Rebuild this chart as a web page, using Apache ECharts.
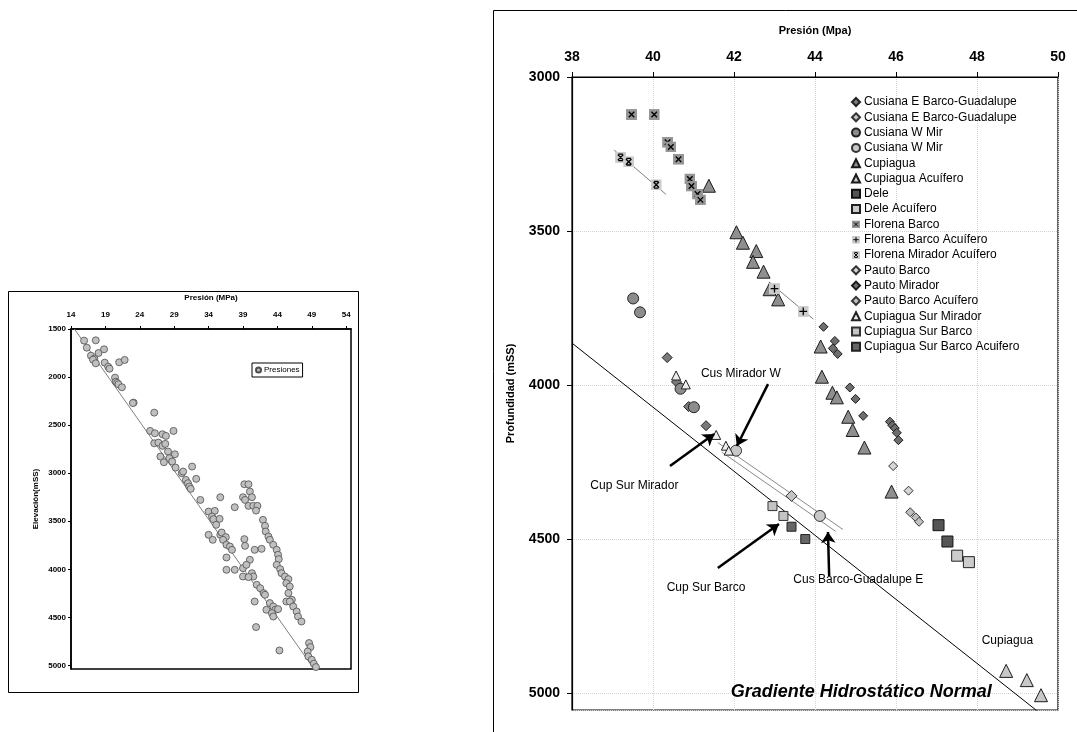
<!DOCTYPE html>
<html><head><meta charset="utf-8">
<script src="https://cdn.jsdelivr.net/npm/echarts@6/dist/echarts.min.js"></script>
<style>html,body{margin:0;padding:0;background:#fff}#c{width:1077px;height:732px}</style>
</head><body><div id="c"></div><script>
// ---------- LEFT CHART DATA (Presión MPa, Elevación mSS) ----------
const presiones = [
 [15.9,1621],[17.6,1618],[16.3,1694],[16.9,1777],[17.4,1808],[18.0,1750],[18.8,1711],[17.2,1819],[17.6,1857],[18.9,1850],
 [19.4,1892],[19.6,1913],[21.0,1846],[21.8,1822],[20.4,2006],[20.5,2048],[20.7,2060],[20.9,2075],[21.4,2106],[23.1,2266],
 [23.0,2270],[26.1,2370],
 [25.5,2560],[26.2,2585],[27.3,2595],[27.8,2612],[28.9,2560],[26.1,2689],[26.7,2682],[27.3,2716],[27.7,2695],[28.1,2775],
 [29.1,2803],[27.0,2827],[27.5,2886],[28.3,2844],[28.7,2879],[29.2,2942],[30.1,3000],[30.3,2983],[31.6,2931],[32.2,3059],
 [30.7,3070],[31.0,3104],[31.2,3139],[31.4,3163],[32.8,3278],[35.7,3250],[37.8,3354],[34.0,3399],[34.9,3392],[34.5,3451],
 [34.7,3478],[35.6,3475],[35.1,3537],
 [39.2,3115],[39.8,3115],[40.0,3191],[40.3,3250],[39.0,3250],[39.3,3278],[39.8,3340],[40.5,3340],[41.1,3340],[40.9,3389],
 [41.9,3485],[42.2,3548],[42.3,3607],[42.7,3659],
 [34.0,3641],[35.7,3641],[35.9,3617],[36.5,3665],[39.2,3686],
 [42.9,3693],[43.4,3745],[43.9,3797],[44.1,3849],[44.2,3894],[43.9,3953],[44.4,3998],[44.6,4040],[45.1,4075],[45.6,4102],
 [36.1,3693],[36.6,3745],[37.1,3763],[37.4,3797],[34.6,3693],[36.6,3877],[39.3,3756],[40.7,3797],[41.7,3787],[39.0,3988],
 [40.0,3901],[39.5,3953],[37.8,4005],[36.6,4005],[40.3,4040],[39.0,4075],[40.5,4075],
 [39.8,4081],[41.0,4161],[41.5,4196],[42.0,4248],[42.2,4265],[45.3,4144],[45.8,4179],[45.6,4248],[46.1,4317],[45.3,4335],
 [45.8,4335],[46.3,4387],[46.8,4439],[47.0,4491],[47.5,4543],[40.7,4335],[42.4,4421],[42.9,4351],[43.4,4387],[43.7,4421],
 [44.1,4414],[43.2,4456],[43.4,4491],[40.9,4601],[44.3,4844],[48.6,4767],[48.8,4809],[48.4,4855],[48.5,4906],[49.0,4941],
 [49.3,4982],[49.6,5017]
];
const presionesTrend = [[14.5,1500],[49.3,5035]];

// ---------- RIGHT CHART DATA (Presión Mpa, Profundidad mSS) ----------
const cusianaE1 = [[40.35,3911],[40.58,3990],[40.88,4070],[41.31,4132]];
const cusianaE2 = [[43.42,4360]];
const cusianaW1 = [[39.51,3719],[39.68,3764],[40.68,4012],[41.01,4072]];
const cusianaW2 = [[42.05,4213],[44.12,4425]];
const cupiagua = [[41.38,3353],[42.06,3504],[42.22,3538],[42.55,3565],[42.47,3600],[42.73,3632],[42.88,3689],[43.09,3722],
  [44.14,3875],[44.17,3973],[44.43,4025],[44.54,4040],[44.82,4103],[44.93,4146],[45.22,4203],[45.89,4346]];
const cupiaguaAcu = [[48.72,4928],[49.23,4958],[49.58,5007]];
const dele = [[47.05,4455],[47.27,4508]];
const deleAcu = [[47.51,4554],[47.80,4575]];
const florenaBarco = [[39.47,3122],[40.03,3122],[40.36,3212],[40.44,3227],[40.63,3267],[40.91,3331],[40.95,3354],[41.10,3380],[41.17,3399]];
const florenaBarcoAcu = [[43.00,3687],[43.71,3761]];
const florenaMirAcu = [[39.20,3261],[39.40,3275],[40.08,3350]];
const pautoBarco = [[45.93,4263],[46.31,4343]];
const pautoMirador = [[44.21,3811],[44.49,3857],[44.44,3881],[44.56,3899],[44.86,4008],[45.00,4045],[45.19,4100],
  [45.85,4119],[45.91,4131],[45.97,4140],[46.02,4155],[46.06,4179]];
const pautoBarcoAcu = [[46.35,4413],[46.49,4430],[46.57,4444]];
const cupSurMirador = [[40.57,3969],[40.81,3998],[41.56,4162],[41.80,4197],[41.87,4213]];
const cupSurBarco = [[42.95,4393],[43.22,4425]];
const cupSurBarcoAcu = [[43.42,4460],[43.76,4500]];

const florenaMirTrend = [[39.04,3237],[40.32,3381]];
const florenaAcuTrend = [[42.86,3665],[43.96,3786]];
const cusianaLineA = [[41.60,4187],[44.69,4469]];
const cusianaLineB = [[41.70,4218],[44.51,4475]];
const hidrostatico = [[38,3864],[49.6,5070]];

const arrows = [
  [[42.84,3997],[42.07,4198]],
  [[40.42,4263],[41.51,4159]],
  [[41.60,4594],[43.11,4451]],
  [[44.35,4620],[44.32,4477]]
];
const annotations = [
  [42.17,3964,'Cus Mirador W'],
  [39.54,4327,'Cup Sur Mirador'],
  [41.31,4659,'Cup Sur Barco'],
  [45.07,4633,'Cus Barco-Guadalupe E'],
  [48.75,4830,'Cupiagua']
];
const gradienteLabel = [45.14,4997,'Gradiente Hidrostático Normal'];

const rightNames = ['Cusiana E Barco-Guadalupe','Cusiana E Barco-Guadalupe\u200B','Cusiana W Mir','Cusiana W Mir\u200B',
  'Cupiagua','Cupiagua Acuífero','Dele','Dele Acuífero','Florena Barco','Florena Barco Acuífero','Florena Mirador Acuífero',
  'Pauto Barco','Pauto Mirador','Pauto Barco Acuífero','Cupiagua Sur Mirador','Cupiagua Sur Barco','Cupiagua Sur Barco Acuifero'];

// ---------- RENDER ----------
const FONT = "'Liberation Sans', Arial, sans-serif";
function svgIcon(fill, path){
  const s = '<svg xmlns="http://www.w3.org/2000/svg" width="20" height="20"><rect x="0" y="0" width="20" height="20" fill="'+fill+
    '"/><path d="'+path+'" stroke="#000" stroke-width="2.4" fill="none"/></svg>';
  return 'image://data:image/svg+xml;charset=utf-8,' + encodeURIComponent(s);
}
const X_PATH='M5 5L15 15M15 5L5 15', PLUS_PATH='M10 3V17M3 10H17', AST_PATH='M5 5L15 15M15 5L5 15M6 4H14M6 16H14';
const plain = v => String(v);

function sc(name, data, symbol, size, fill, border){
  return {type:'scatter', name:name, data:data, xAxisIndex:1, yAxisIndex:1, symbol:symbol, symbolSize:size,
    itemStyle:{color:fill, borderColor:border, borderWidth:border?1:0, opacity:1}, z:4};
}
function ln(data, color, xi, z){
  return {type:'line', data:data, xAxisIndex:xi, yAxisIndex:xi, symbol:'none', silent:true,
    lineStyle:{color:color, width:1}, z:z||2};
}

const chart = echarts.init(document.getElementById('c'), null, {renderer:'canvas'});
const series = [
  ln(presionesTrend,'#7f7f7f',0,2),
  {type:'scatter', name:'Presiones', data:presiones, xAxisIndex:0, yAxisIndex:0, symbol:'circle', symbolSize:7,
   itemStyle:{color:'#c0c0c0', borderColor:'#4d4d4d', borderWidth:0.8, opacity:1}, z:3},
  ln(hidrostatico,'#000',1,2), ln(florenaMirTrend,'#7f7f7f',1,2), ln(florenaAcuTrend,'#7f7f7f',1,2),
  ln(cusianaLineA,'#8a8a8a',1,2), ln(cusianaLineB,'#8a8a8a',1,2),
  sc(rightNames[0], cusianaE1, 'diamond', 10, '#7a7a7a', '#222'),
  sc(rightNames[1], cusianaE2, 'diamond', 11, '#c4c4c4', '#333'),
  sc(rightNames[2], cusianaW1, 'circle', 11, '#8c8c8c', '#222'),
  sc(rightNames[3], cusianaW2, 'circle', 11, '#c8c8c8', '#333'),
  sc(rightNames[4], cupiagua, 'triangle', 13, '#8f8f8f', '#1a1a1a'),
  sc(rightNames[5], cupiaguaAcu, 'triangle', 13, '#c8c8c8', '#1a1a1a'),
  sc(rightNames[6], dele, 'rect', 11, '#555555', '#111'),
  sc(rightNames[7], deleAcu, 'rect', 11, '#cccccc', '#222'),
  sc(rightNames[8], florenaBarco, svgIcon('#969696', X_PATH), 11, '#969696', null),
  sc(rightNames[9], florenaBarcoAcu, svgIcon('#cccccc', PLUS_PATH), 11, '#cccccc', null),
  sc(rightNames[10], florenaMirAcu, svgIcon('#cccccc', AST_PATH), 11, '#cccccc', null),
  sc(rightNames[11], pautoBarco, 'diamond', 9, '#d6d6d6', '#333'),
  sc(rightNames[12], pautoMirador, 'diamond', 9, '#6e6e6e', '#1a1a1a'),
  sc(rightNames[13], pautoBarcoAcu, 'diamond', 9, '#c0c0c0', '#333'),
  sc(rightNames[14], cupSurMirador, 'triangle', 9, '#ededed', '#222'),
  sc(rightNames[15], cupSurBarco, 'rect', 9, '#c4c4c4', '#333'),
  sc(rightNames[16], cupSurBarcoAcu, 'rect', 9, '#666666', '#222'),
  {type:'lines', coordinateSystem:'cartesian2d', xAxisIndex:1, yAxisIndex:1, silent:true, z:5,
   symbol:['none','arrow'], symbolSize:11,
   lineStyle:{color:'#000', width:2.5, opacity:1, curveness:0},
   data: arrows.map(a=>({coords:a}))},
  {type:'scatter', xAxisIndex:1, yAxisIndex:1, silent:true, symbolSize:0, z:6, itemStyle:{opacity:1},
   label:{show:true, position:'inside', color:'#000', opacity:1, fontSize:12, fontFamily:FONT, formatter:p=>p.data.txt},
   data: annotations.map(a=>({value:[a[0],a[1]], txt:a[2]}))},
  {type:'scatter', xAxisIndex:1, yAxisIndex:1, silent:true, symbolSize:0, z:6, itemStyle:{opacity:1},
   label:{show:true, position:'inside', color:'#000', opacity:1, fontSize:18, fontWeight:'bold', fontStyle:'italic', fontFamily:FONT, formatter:p=>p.data.txt},
   data: [{value:[gradienteLabel[0],gradienteLabel[1]], txt:gradienteLabel[2]}]}
];

const option = {
  animation:false,
  backgroundColor:'#fff',
  textStyle:{fontFamily:FONT},
  graphic:[
    {type:'rect', shape:{x:8.5,y:291.5,width:350,height:401}, style:{fill:'none', stroke:'#000', lineWidth:1}, z:0},
    {type:'rect', shape:{x:493.5,y:10.5,width:600,height:740}, style:{fill:'none', stroke:'#000', lineWidth:1}, z:0}
  ],
  grid:[
    {left:71, top:329, width:280, height:340, show:true, borderColor:'#000', borderWidth:1.5, backgroundColor:'#fff'},
    {left:572, top:77, width:486, height:633, show:true, borderColor:'#000', borderWidth:1.2, backgroundColor:'#fff'}
  ],
  xAxis:[
    {gridIndex:0, type:'value', position:'top', min:14, max:54.7, interval:5,
     name:'Presión (MPa)', nameLocation:'middle', nameGap:27, nameTextStyle:{fontSize:8, fontWeight:'bold', color:'#000'},
     axisLine:{show:true, lineStyle:{color:'#000', width:1.5}}, axisTick:{show:true, length:3, lineStyle:{color:'#000'}},
     axisLabel:{fontSize:8, fontWeight:'bold', color:'#000', margin:10, showMaxLabel:false, formatter:plain}, splitLine:{show:false}},
    {gridIndex:1, type:'value', position:'top', min:38, max:50, interval:2,
     name:'Presión (Mpa)', nameLocation:'middle', nameGap:41, nameTextStyle:{fontSize:11, fontWeight:'bold', color:'#000'},
     axisLine:{show:true, lineStyle:{color:'#000', width:1.2}}, axisTick:{show:true, length:5, lineStyle:{color:'#000'}},
     axisLabel:{fontSize:14, fontWeight:'bold', color:'#000', margin:13, formatter:plain},
     splitLine:{show:true, lineStyle:{color:'#d4d4d4', type:'dotted', width:1}}}
  ],
  yAxis:[
    {gridIndex:0, type:'value', inverse:true, min:1500, max:5037, interval:500,
     name:'Elevación(mSS)', nameLocation:'middle', nameGap:31, nameTextStyle:{fontSize:8, fontWeight:'bold', color:'#000'},
     axisLine:{show:true, lineStyle:{color:'#000', width:1.5}}, axisTick:{show:true, length:3, lineStyle:{color:'#000'}},
     axisLabel:{fontSize:8, fontWeight:'bold', color:'#000', margin:5, showMaxLabel:false, formatter:plain}, splitLine:{show:false}},
    {gridIndex:1, type:'value', inverse:true, min:3000, max:5055, interval:500,
     name:'Profundidad (mSS)', nameLocation:'middle', nameGap:56, nameTextStyle:{fontSize:11, fontWeight:'bold', color:'#000'},
     axisLine:{show:true, lineStyle:{color:'#000', width:1.2}}, axisTick:{show:true, length:5, lineStyle:{color:'#000'}},
     axisLabel:{fontSize:14, fontWeight:'bold', color:'#000', margin:12, showMaxLabel:false, formatter:plain},
     splitLine:{show:true, lineStyle:{color:'#d4d4d4', type:'dotted', width:1}}}
  ],
  legend:[
    {data:['Presiones'], left:252, top:363, orient:'horizontal', borderColor:'#000', borderWidth:1, padding:[3,3,3,3],
     backgroundColor:'#fff', itemWidth:5, itemHeight:5, itemGap:2, selectedMode:false,
     textStyle:{fontSize:8, color:'#000', fontFamily:FONT, padding:[0,0,0,-2]}},
    {data:rightNames, left:846, top:91, orient:'vertical', itemWidth:8, itemHeight:8, itemGap:3.3, selectedMode:false,
     textStyle:{fontSize:12, color:'#000', fontFamily:FONT, lineHeight:12, padding:[0,0,0,-1]}}
  ],
  series:series
};
chart.setOption(option);
</script></body></html>
